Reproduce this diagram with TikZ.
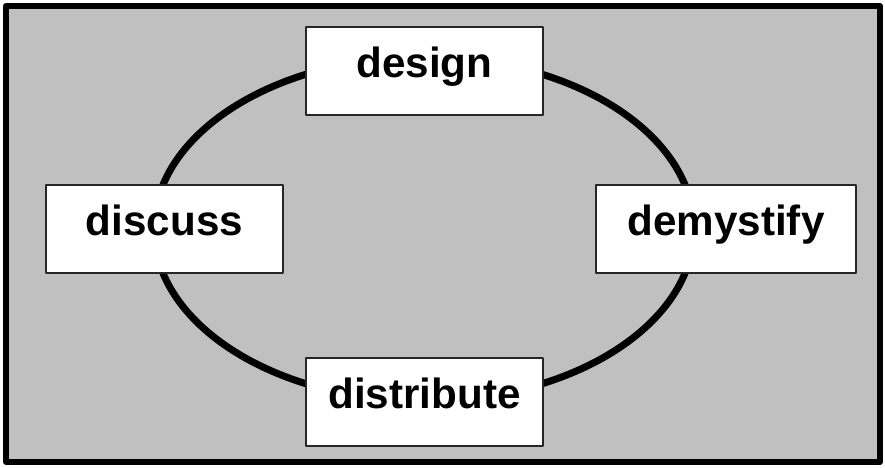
\documentclass[tikz,border=0pt]{standalone}
\usepackage{fontspec}
\setmainfont{Liberation Sans}
\definecolor{panel}{HTML}{C0C0C0}

\begin{document}
\begin{tikzpicture}[x=0.025cm,y=-0.025cm,line join=round]
  \tikzset{
    frame/.style={line width=4.3pt,draw=black,fill=panel},
    cycle/.style={line width=5pt,draw=black},
    stage/.style={draw=black!85,line width=1pt,fill=white,inner xsep=0pt,inner ysep=0pt,
      text height=35.6pt,text depth=27pt,minimum width=168.6pt,
      font=\fontsize{30pt}{36pt}\selectfont\bfseries}
  }
  \useasboundingbox (0,0) rectangle (885,467);

  % background panel
  \draw[frame] (6,6) rectangle (880,462);

  % the loop behind the four stages
  \coordinate (hub) at (424,229);
  \draw[cycle] (hub) ellipse [x radius=270, y radius=172];

  % stages
  \node[stage] (design) at (424.5,71) {design};
  \node[stage] (distribute) at (424.5,402) {distribute};
  \node[stage] (discuss) at (164.5,229) {discuss};
  \node[stage,minimum width=185pt] (demystify) at (726,229) {demystify};
\end{tikzpicture}
\end{document}
